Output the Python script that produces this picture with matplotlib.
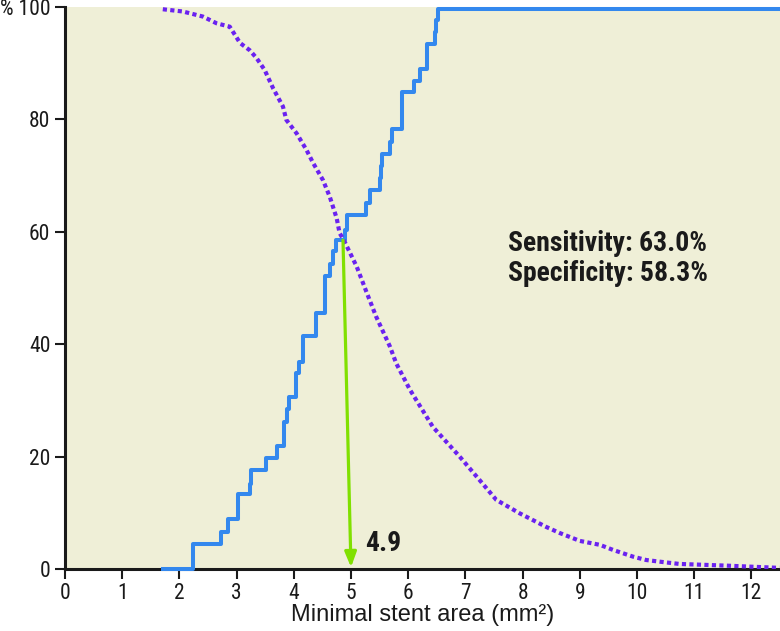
import matplotlib
matplotlib.use("Agg")
import matplotlib.pyplot as plt
from matplotlib import font_manager as fm

# ---- data ----
sens_x = [1.72, 2.24, 2.72, 2.85, 3.02, 3.03, 3.24, 3.26, 3.52, 3.70, 3.83, 3.88, 3.92,
          4.04, 4.09, 4.16, 4.38, 4.54, 4.63, 4.68, 4.73, 4.89, 4.93, 5.27, 5.34, 5.50,
          5.52, 5.55, 5.69, 5.72, 5.90, 6.11, 6.21, 6.32, 6.46, 6.48, 6.52, 12.5]
sens_y = [0.0, 4.4, 6.6, 8.9, 11.1, 13.3, 15.1, 17.6, 19.7, 21.8, 26.2, 28.5, 30.6,
          34.9, 36.8, 41.5, 45.6, 52.1, 54.3, 56.5, 58.5, 60.3, 63.0, 65.1, 67.4, 69.6,
          71.7, 73.8, 76.0, 78.3, 84.8, 86.9, 89.0, 93.4, 95.6, 97.7, 99.6, 99.6]

spec_x = [1.71, 2.06, 2.41, 2.65, 2.88, 3.06, 3.23, 3.35, 3.49, 3.64, 3.81, 3.87, 4.05,
          4.22, 4.34, 4.51, 4.63, 4.75, 4.80, 4.89, 5.10, 5.27, 5.44, 5.68, 5.79, 6.03,
          6.43, 6.90, 7.25, 7.54, 7.95, 8.41, 8.65, 9.00, 9.35, 9.58, 9.93, 10.16, 10.40,
          10.74, 11.56, 12.49]
spec_y = [99.6, 99.2, 98.3, 97.1, 96.5, 93.6, 92.3, 90.9, 88.8, 85.5, 82.3, 79.9, 77.5,
          74.6, 72.2, 69.2, 66.2, 62.4, 59.8, 58.2, 53.8, 49.3, 44.9, 39.6, 36.6, 31.9,
          25.3, 20.0, 15.8, 12.3, 9.9, 7.5, 6.4, 5.0, 4.3, 3.4, 2.2, 1.6, 1.3,
          0.9, 0.6, 0.2]

cutoff = 4.9
cutoff_y = 58.5
sensitivity_txt = "Sensitivity: 63.0%"
specificity_txt = "Specificity: 58.3%"
x_ticks = list(range(0, 13))
y_ticks = [0, 20, 40, 60, 80, 100]
y_tick_labels = ["0", "20", "40", "60", "80", "% 100"]

# ---- fonts ----
names = {f.name for f in fm.fontManager.ttflist}
narrow = None
for cand in ["Roboto Condensed", "Liberation Sans Narrow", "DejaVu Sans Condensed",
             "Open Sans Condensed"]:
    if cand in names:
        narrow = cand
        break
if narrow is None:
    narrow = "DejaVu Sans"
plain = "Liberation Sans" if "Liberation Sans" in names else "DejaVu Sans"

fig = plt.figure(figsize=(7.8, 6.31), dpi=100)
ax = fig.add_axes([65 / 780, (631 - 569) / 631, 1 - 65 / 780, (569 - 7) / 631])
ax.set_facecolor("#EFEFD7")

ax.step(sens_x, sens_y, where="post", color="#3388EE", lw=2.9, zorder=3, clip_on=False)
ax.plot(spec_x, spec_y, color="#6A22F0", lw=3.0, linestyle=(0, (1, 0.8)), zorder=4)

ax.annotate("", xy=(cutoff + 0.1, 0.3), xytext=(cutoff - 0.04, cutoff_y),
            arrowprops=dict(arrowstyle="-|>,head_length=0.9,head_width=0.35",
                            color="#80E000", lw=2.3, shrinkA=0, shrinkB=0), zorder=5)
ax.text(5.24, 4.6, "4.9", fontsize=20, fontweight="bold", family=narrow,
        ha="left", va="center", color="#1a1a1a")
ax.text(7.74, 58.0, sensitivity_txt, fontsize=20, fontweight="bold", family=narrow,
        ha="left", va="center", color="#1a1a1a")
ax.text(7.74, 52.6, specificity_txt, fontsize=20, fontweight="bold", family=narrow,
        ha="left", va="center", color="#1a1a1a")

ax.set_xlim(0, 12.5)
ax.set_ylim(0, 100)
ax.set_xticks(x_ticks)
ax.set_xticklabels([str(v) for v in x_ticks], family=narrow, fontsize=15.5)
ax.set_yticks(y_ticks)
ax.set_yticklabels(y_tick_labels, family=narrow, fontsize=15.5)
ax.tick_params(axis="both", direction="out", length=7, width=1.5, color="#1a1a1a",
               labelcolor="#1a1a1a")
ax.tick_params(axis="x", pad=3)
for s in ["top", "right"]:
    ax.spines[s].set_visible(False)
for s in ["left", "bottom"]:
    ax.spines[s].set_linewidth(2.2)
    ax.spines[s].set_color("#1a1a1a")
ax.set_xlabel("Minimal stent area (mm²)", family=plain, fontsize=17, color="#1a1a1a",
              labelpad=0)

fig.savefig("out.png", dpi=100)
